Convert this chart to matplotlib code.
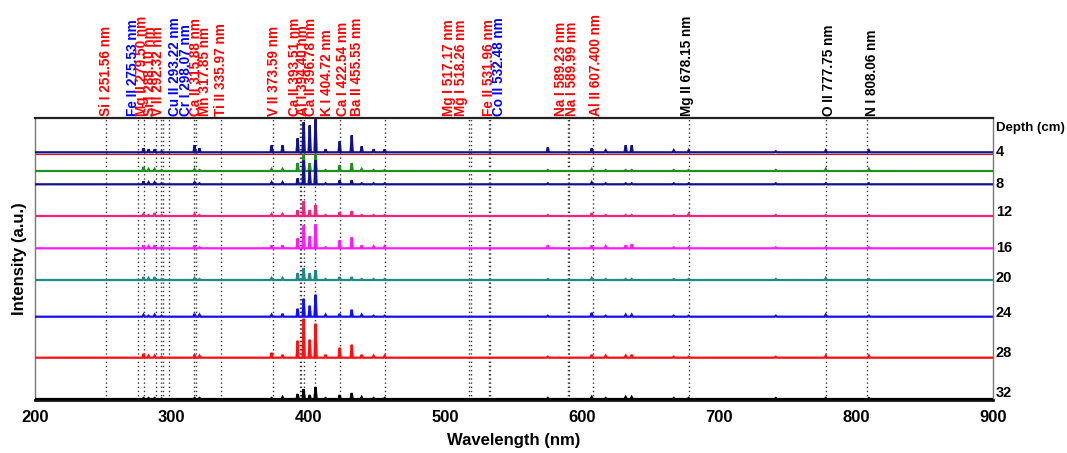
import numpy as np
import matplotlib
matplotlib.use("Agg")
import matplotlib.pyplot as plt
import matplotlib.transforms as mtransforms

plt.rcParams['font.family'] = ['Liberation Sans', 'DejaVu Sans']

# ---- emission line markers (label, wavelength, colour) ----
line_labels = ["Si I 251.56 nm", "Fe II 275.53 nm", "Mg II 279.50 nm", "Si I 288.10 nm",
               "V II 292.32 nm", "Cu II 293.22 nm", "Cr I 298.07 nm", "Ca II 315.88 nm",
               "Mn 317.85 nm", "Ti II 335.97 nm", "V II 373.59 nm", "Ca II 393.51 nm",
               "Al I 394.40 nm", "Ca II 396.78 nm", "K I 404.72 nm", "Ca I 422.54 nm",
               "Ba II 455.55 nm", "Mg I 517.17 nm", "Mg I 518.26 nm", "Fe II 531.96 nm",
               "Co II 532.48 nm", "Na I 589.23 nm", "Na I 589.99 nm", "Al II 607.400 nm",
               "Mg II 678.15 nm", "O II 777.75 nm", "N I 808.06 nm"]
line_nm = [251.56, 275.53, 279.50, 288.10, 292.32, 293.22, 298.07, 315.88, 317.85, 335.97,
           373.59, 393.51, 394.40, 396.78, 404.72, 422.54, 455.55, 517.17, 518.26, 531.96,
           532.48, 589.23, 589.99, 607.400, 678.15, 777.75, 808.06]
line_colors = ["r", "b", "r", "r", "r", "b", "b", "r", "r", "r",
               "r", "r", "r", "r", "r", "r", "r", "r", "r", "r",
               "b", "r", "r", "r", "k", "k", "k"]

# ---- spectra: peak positions (nm) and peak intensities for each depth ----
peak_nm = [279.3, 283.0, 287.4, 292.5, 316.6, 320.2, 372.9, 380.9, 391.9, 396.3,
           400.7, 405.0, 412.3, 422.6, 431.4, 438.7, 447.4, 455.5, 574.7, 606.8,
           617.0, 631.6, 636.0, 666.7, 677.6, 741.3, 777.8, 809.3]

depth_tags = ["4", "", "8", "12", "16", "20", "24", "28", "32"]

int_4 = [4, 3, 3, 1, 7, 4, 7, 7, 14, 30, 27, 33, 3, 11, 17, 6, 3, 3, 5, 4, 2, 7, 7, 2, 2, 1, 2, 2]
int_6 = [4, 2, 2, 1, 2, 1, 2, 2, 8, 17, 8, 17, 1, 6, 8, 2, 1, 1, 1, 2, 1, 1, 1, 1, 1, 1, 2, 2]
int_8 = [3, 2, 2, 1, 2, 1, 2, 2, 6, 24, 14, 24, 1, 4, 4, 1, 1, 1, 1, 2, 1, 1, 1, 1, 1, 1, 1, 1]
int_12 = [2, 1, 3, 1, 2, 1, 2, 2, 6, 15, 6, 11, 1, 4, 5, 1, 1, 1, 1, 3, 1, 1, 1, 1, 2, 1, 1, 1]
int_16 = [3, 2, 3, 1, 3, 1, 3, 3, 10, 23, 12, 24, 1, 8, 11, 3, 2, 2, 3, 3, 2, 3, 4, 1, 1, 1, 1, 1]
int_20 = [3, 2, 3, 1, 2, 1, 2, 2, 7, 12, 7, 10, 1, 3, 3, 1, 1, 1, 1, 2, 1, 1, 1, 1, 1, 1, 2, 1]
int_24 = [2, 1, 2, 1, 3, 2, 2, 3, 8, 18, 11, 22, 2, 3, 7, 2, 1, 1, 1, 4, 1, 2, 2, 1, 1, 1, 2, 1]
int_28 = [4, 2, 2, 1, 3, 2, 5, 3, 17, 39, 18, 34, 3, 10, 13, 3, 2, 2, 1, 3, 2, 2, 3, 1, 1, 1, 2, 2]
int_32 = [1, 1, 1, 0.5, 1, 1, 1, 2, 5, 10, 4, 12, 1, 4, 6, 2, 1, 1, 1, 2, 1, 2, 2, 1, 1, 1, 1, 1]
intensities = [int_4, int_6, int_8, int_12, int_16, int_20, int_24, int_28, int_32]

# ---- layout / style ----
offsets = [247.7, 229.0, 215.7, 184.0, 151.7, 120.0, 83.3, 42.3, 1.0]
tag_y = [248, None, 216, 188.5, 152, 122, 87, 47, 7]
# horizontal placement of the marker captions (spread so they stay legible)
caption_x = [251.7, 271.8, 278.2, 283.8, 290.0, 302.3, 310.1, 317.8, 324.0, 335.7,
             374.6, 390.0, 395.8, 401.6, 413.4, 424.7, 435.3, 502.5, 511.1, 531.7,
             539.0, 584.1, 592.6, 609.7, 676.6, 780.2, 811.8]
colors = ["#12128a", "#1f8f1f", "#12128a", "#f0247a", "#ff19ff", "#1e8a86",
          "#1010f0", "#ff1010", "#000000"]
half_width = 0.8

fig = plt.figure(figsize=(10.67, 4.53), dpi=100)
ax = fig.add_axes([35 / 1067, 53 / 453, 958 / 1067, 282 / 453])
ax.set_xlim(200, 900)
ax.set_ylim(0, 282)

# dotted marker lines
for wl in line_nm:
    ax.axvline(wl, color="#3a3a3a", lw=1.0, ls=(0, (1, 2)), zorder=1)

# faint red trace lying just under the top spectrum
ax.hlines(offsets[0] - 1.6, 200, 900, color="#d01010", lw=0.8, zorder=2)


def spike_trace(centres, heights, base):
    xs, ys = [200.0], [base]
    for c, h in sorted(zip(centres, heights)):
        xs += [c - half_width, c, c + half_width]
        ys += [base, base + h, base]
    xs.append(900.0)
    ys.append(base)
    return xs, ys


for vals, base, col in zip(intensities, offsets, colors):
    xs, ys = spike_trace(peak_nm, vals, base)
    ax.plot(xs, ys, color=col, lw=1.6, zorder=3, solid_joinstyle="miter")

# marker captions above the frame
cap_tr = mtransforms.blended_transform_factory(ax.transData, ax.transAxes)
for lab, cx, col in zip(line_labels, caption_x, line_colors):
    ax.annotate(lab, xy=(cx, 1.0), xycoords=cap_tr,
                xytext=(0, 1.5), textcoords="offset points", rotation=90,
                ha="center", va="bottom", color=col, fontsize=9.8, fontweight="bold")

# depth tags on the right
tr = mtransforms.blended_transform_factory(ax.transAxes, ax.transData)
for tag, ty in zip(depth_tags, tag_y):
    if tag:
        ax.text(1.003, ty, tag, transform=tr, ha="left", va="center",
                fontsize=10.5, fontweight="bold")
ax.text(1.003, 272, "Depth (cm)", transform=tr, ha="left", va="center",
        fontsize=9.5, fontweight="bold")

# axes styling
ax.set_yticks([])
ax.set_xticks([200, 300, 400, 500, 600, 700, 800, 900])
ax.tick_params(axis="x", length=0, pad=7, labelsize=12)
for t in ax.get_xticklabels():
    t.set_fontweight("bold")
ax.set_xlabel("Wavelength (nm)", fontsize=12, fontweight="bold", labelpad=6)
ax.set_ylabel("Intensity (a.u.)", fontsize=12, fontweight="bold", labelpad=6)

ax.spines["top"].set_color("#222222")
ax.spines["top"].set_linewidth(1.6)
ax.spines["bottom"].set_color("#111111")
ax.spines["bottom"].set_linewidth(2.0)
ax.spines["left"].set_color("#777777")
ax.spines["left"].set_linewidth(1.0)
ax.spines["right"].set_color("#777777")
ax.spines["right"].set_linewidth(1.0)

fig.savefig("out.png", dpi=100)
